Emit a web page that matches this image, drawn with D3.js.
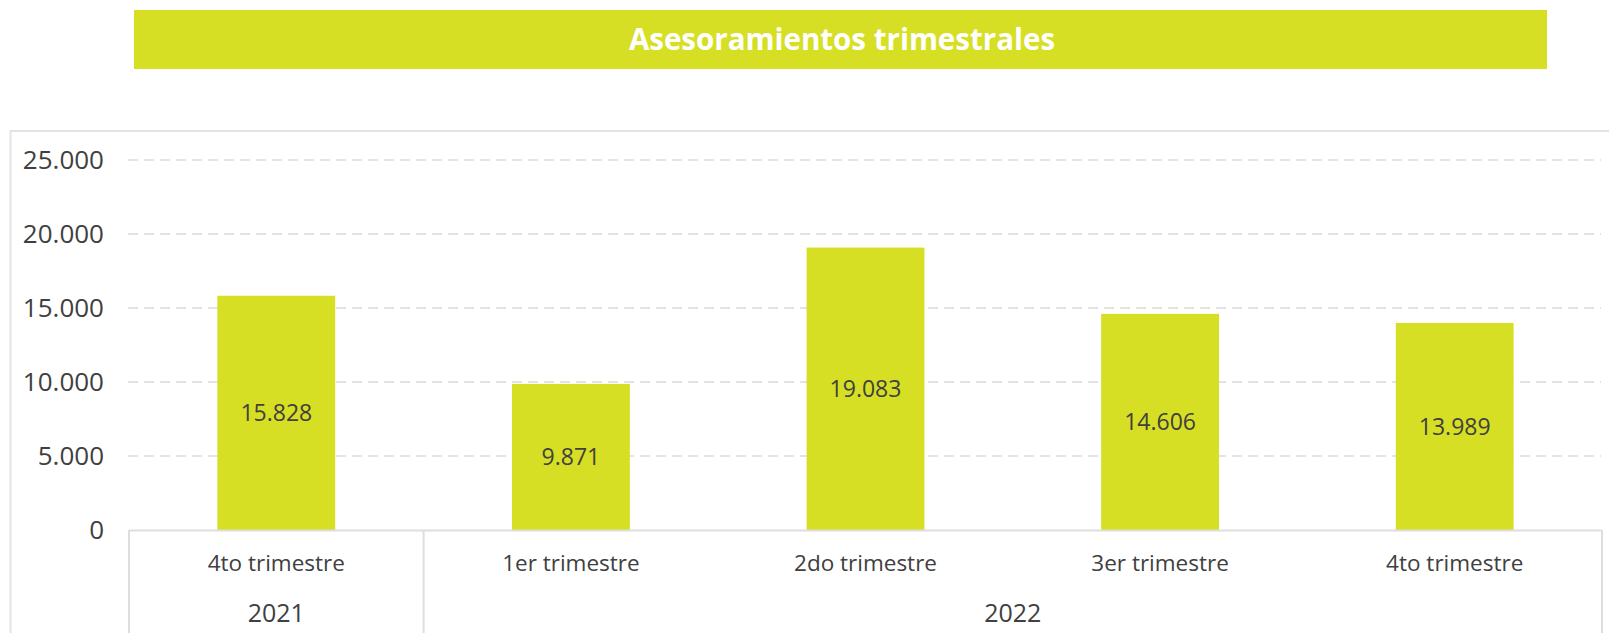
<!DOCTYPE html>
<html>
<head>
<meta charset="utf-8">
<script src="https://cdn.jsdelivr.net/npm/d3@7"></script>
<style>
  body { margin: 0; background: #fff; }
  svg { display: block; font-family: "Open Sans", sans-serif; }
</style>
</head>
<body>
<div id="chart"></div>
<script>
// datos del gráfico
var quarters = ["4to trimestre", "1er trimestre", "2do trimestre", "3er trimestre", "4to trimestre"];
var values = [15828, 9871, 19083, 14606, 13989];
var yearLabels = ["2021", "2022"];
var yearSpans = [1, 4];
var yTicks = [0, 5000, 10000, 15000, 20000, 25000];
var title = "Asesoramientos trimestrales";

var width = 1609,
    height = 633;

var green = "#d6df23",
    textColor = "#404040",
    lineColor = "#dedede";

// formato con punto para miles
var locale = d3.formatLocale({ decimal: ",", thousands: ".", grouping: [3], currency: ["$", ""] });
var fmt = locale.format(",d");

var svg = d3.select("#chart")
    .append("svg")
    .attr("width", width)
    .attr("height", height);

// banda del título
svg.append("rect")
    .attr("x", 134)
    .attr("y", 10)
    .attr("width", 1413)
    .attr("height", 59)
    .attr("fill", green);

svg.append("text")
    .attr("x", 842)
    .attr("y", 50)
    .attr("text-anchor", "middle")
    .attr("fill", "#fff")
    .attr("font-weight", "bold")
    .attr("font-size", 29.5)
    .text(title);

// marco del gráfico
svg.append("rect")
    .attr("x", 10.5)
    .attr("y", 131)
    .attr("width", 1620)
    .attr("height", 600)
    .attr("fill", "none")
    .attr("stroke", "#e3e3e3")
    .attr("stroke-width", 2);

var x0 = 129, x1 = 1602;

var x = d3.scaleBand()
    .domain(d3.range(values.length))
    .range([x0, x1])
    .paddingInner(0.6)
    .paddingOuter(0.3);

var y = d3.scaleLinear()
    .domain([0, 25000])
    .range([530, 160]);

// líneas de cuadrícula
svg.append("g")
    .selectAll("line")
    .data(yTicks.filter(function(d) { return d > 0; }))
    .join("line")
    .attr("x1", 128)
    .attr("x2", 1601)
    .attr("y1", function(d) { return y(d); })
    .attr("y2", function(d) { return y(d); })
    .attr("stroke", "#e3e3e3")
    .attr("stroke-width", 2)
    .attr("stroke-dasharray", "10,6");

// etiquetas del eje y
svg.append("g")
    .selectAll("text")
    .data(yTicks)
    .join("text")
    .attr("x", 104)
    .attr("y", function(d) { return y(d); })
    .attr("dy", "0.35em")
    .attr("text-anchor", "end")
    .attr("fill", textColor)
    .attr("font-size", 26)
    .text(function(d) { return fmt(d); });

// barras
svg.append("g")
    .selectAll("rect")
    .data(values)
    .join("rect")
    .attr("x", function(d, i) { return x(i); })
    .attr("y", function(d) { return y(d); })
    .attr("width", x.bandwidth())
    .attr("height", function(d) { return y(0) - y(d); })
    .attr("fill", green);

// valores dentro de las barras
svg.append("g")
    .selectAll("text")
    .data(values)
    .join("text")
    .attr("x", function(d, i) { return x(i) + x.bandwidth() / 2; })
    .attr("y", function(d) { return (y(d) + y(0)) / 2; })
    .attr("dy", "0.35em")
    .attr("text-anchor", "middle")
    .attr("fill", textColor)
    .attr("font-size", 23)
    .text(function(d) { return fmt(d); });

// caja del eje de categorías
svg.append("line")
    .attr("x1", x0).attr("x2", x1)
    .attr("y1", y(0) + 0.5).attr("y2", y(0) + 0.5)
    .attr("stroke", lineColor)
    .attr("stroke-width", 2);

var step = x.step();
var splits = [0];
yearSpans.forEach(function(n, i) { splits.push(splits[i] + n); });

svg.append("g")
    .selectAll("line")
    .data(splits)
    .join("line")
    .attr("x1", function(d) { return x0 + d * step; })
    .attr("x2", function(d) { return x0 + d * step; })
    .attr("y1", y(0))
    .attr("y2", height)
    .attr("stroke", lineColor)
    .attr("stroke-width", 2);

// etiquetas de trimestre
svg.append("g")
    .selectAll("text")
    .data(quarters)
    .join("text")
    .attr("x", function(d, i) { return x(i) + x.bandwidth() / 2; })
    .attr("y", 563)
    .attr("dy", "0.35em")
    .attr("text-anchor", "middle")
    .attr("fill", textColor)
    .attr("font-size", 22.5)
    .text(function(d) { return d; });

// etiquetas de año
svg.append("g")
    .selectAll("text")
    .data(yearLabels)
    .join("text")
    .attr("x", function(d, i) { return x0 + (splits[i] + splits[i + 1]) / 2 * step; })
    .attr("y", 613)
    .attr("dy", "0.35em")
    .attr("text-anchor", "middle")
    .attr("fill", textColor)
    .attr("font-size", 25)
    .text(function(d) { return d; });
</script>
</body>
</html>
